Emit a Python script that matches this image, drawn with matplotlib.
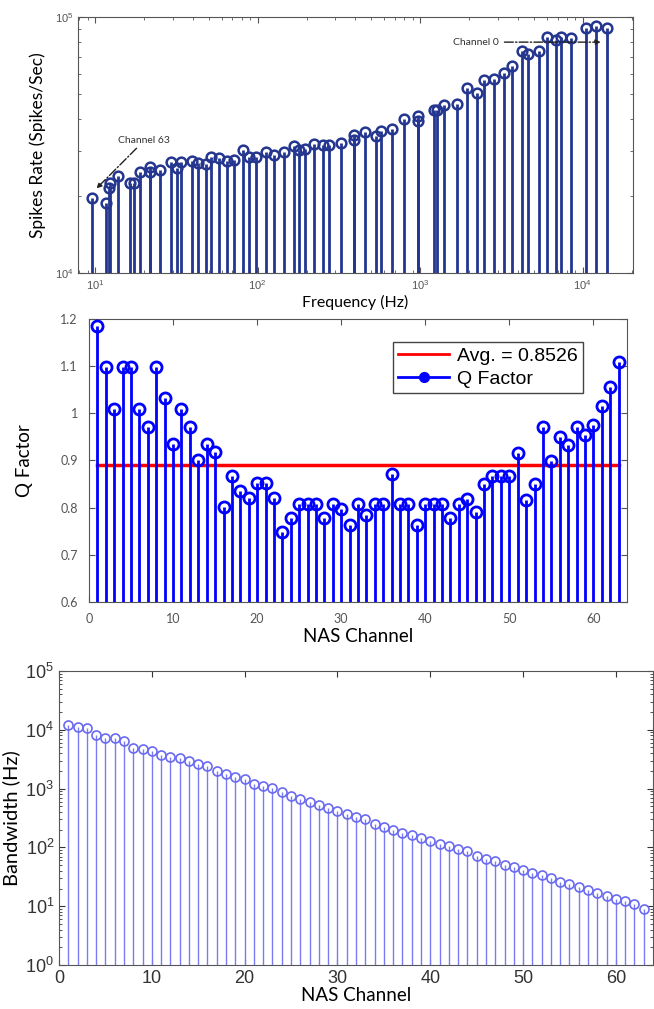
import numpy as np
import matplotlib
matplotlib.use("Agg")
import matplotlib.pyplot as plt
from matplotlib.lines import Line2D
from matplotlib.ticker import LogLocator, NullFormatter, FixedLocator

# spike rate vs centre frequency (channel 63 ... channel 0)
freq_hz = [9.6, 11.7, 12.2, 12.4, 13.9, 16.5, 17.3, 19.0, 21.7, 21.9,
           24.9, 29.2, 32.0, 34.0, 39.2, 42.9, 47.8, 52.0, 57.7, 64.6,
           72.0, 81.1, 88.3, 98.0, 112, 126, 146, 168, 179, 197,
           223, 252, 275, 325, 393, 393, 459, 536, 578, 670,
           800, 968, 968, 1225, 1278, 1406, 1683, 1946, 2252, 2466,
           2866, 3301, 3681, 4224, 4620, 5399, 6072, 6870, 7342, 8458,
           10460, 12110, 14090]
spike_rate = [19600, 18740, 21430, 22430, 23930, 22530, 22530, 24900, 25880, 24830,
              25190, 27170, 25830, 27170, 27300, 26830, 26740, 28480, 28140, 27300,
              27650, 30270, 28310, 28400, 29600, 28820, 29600, 31340, 30270, 30500,
              31900, 31540, 31620, 32080, 34600, 33030, 35560, 34290, 35970, 36640,
              39930, 41010, 39110, 43280, 43280, 45150, 45930, 52850, 50560, 56650,
              57140, 60520, 64240, 73500, 71570, 73960, 83600, 81580, 83600, 82790,
              90820, 92060, 90820]

# Q factor per NAS channel
channels = list(range(1, 64))
q_factor = [1.184, 1.098, 1.01, 1.098, 1.098, 1.01, 0.971, 1.098, 1.032, 0.934,
            1.01, 0.971, 0.9, 0.934, 0.917, 0.802, 0.868, 0.835, 0.82, 0.852,
            0.852, 0.82, 0.748, 0.778, 0.808, 0.808, 0.808, 0.778, 0.808, 0.797,
            0.764, 0.807, 0.784, 0.807, 0.807, 0.871, 0.807, 0.807, 0.764, 0.807,
            0.807, 0.807, 0.777, 0.807, 0.819, 0.79, 0.851, 0.867, 0.867, 0.867,
            0.916, 0.817, 0.85, 0.97, 0.898, 0.95, 0.933, 0.97, 0.953, 0.975,
            1.015, 1.055, 1.109]
avg_line = 0.89
avg_label = "Avg. = 0.8526"

# bandwidth per NAS channel
bandwidth = [12250, 11320, 10620, 8070, 7280, 7280, 6560, 4990, 4730, 4380,
             3790, 3460, 3280, 2960, 2590, 2430, 2030, 1780, 1600, 1450,
             1220, 1100, 1020, 881, 753, 670, 596, 530, 471, 419,
             377, 327, 299, 252, 224, 196, 177, 160, 146, 126,
             114, 105, 93.5, 85.3, 71.9, 64.0, 57.7, 50.6, 46.8, 40.6,
             36.6, 34.3, 30.1, 26.1, 24.1, 21.4, 18.5, 17.1, 14.7, 13.1,
             12.2, 10.7, 8.8]

label_font = ["Lato", "DejaVu Sans"]
tick_font = ["Liberation Sans", "DejaVu Sans"]

fig = plt.figure(figsize=(6.54, 10.09), dpi=100)

# ---------- top: spikes rate ----------
ax1 = fig.add_axes([0.1193, 0.7294, 0.8486, 0.2537])
navy = "#24368f"
ml, sl, bl = ax1.stem(freq_hz, spike_rate, bottom=1e4, basefmt=" ")
plt.setp(sl, color=navy, linewidth=2.0)
plt.setp(ml, color=navy, marker="o", markersize=7, markerfacecolor="none",
         markeredgewidth=1.8)
ax1.set_xscale("log")
ax1.set_yscale("log")
ax1.set_xlim(7.85, 20400)
ax1.set_ylim(1e4, 1e5)
ax1.yaxis.set_major_locator(FixedLocator([1e4, 1e5]))
ax1.yaxis.set_minor_locator(LogLocator(base=10, subs=np.arange(2, 10)))
ax1.yaxis.set_minor_formatter(NullFormatter())
ax1.tick_params(which="both", direction="in", top=True, right=True,
                colors="#555555", labelsize=8)
ax1.tick_params(which="major", length=4)
ax1.tick_params(which="minor", length=2)
for lab in ax1.get_xticklabels() + ax1.get_yticklabels():
    lab.set_family(tick_font)
ax1.set_xlabel("Frequency (Hz)", family=label_font, fontsize=11.5, labelpad=2)
ax1.set_ylabel("Spikes Rate (Spikes/Sec)", family=label_font, fontsize=12.5, labelpad=6)
ax1.annotate("Channel 63", xy=(10.2, 21400), xytext=(13.8, 32800),
             fontsize=7.5, family=label_font, color="#333333", va="center",
             arrowprops=dict(arrowstyle="-|>", linestyle="-.", color="#222222",
                             lw=1.0, shrinkA=0, shrinkB=0))
ax1.annotate("Channel 0", xy=(12900, 79800), xytext=(3050, 79800),
             fontsize=7.5, family=label_font, color="#333333", va="center", ha="right",
             arrowprops=dict(arrowstyle="-|>", linestyle="-.", color="#222222",
                             lw=1.0, shrinkA=2, shrinkB=0))
for s in ax1.spines.values():
    s.set_color("#555555")

# ---------- middle: Q factor ----------
ax2 = fig.add_axes([0.1361, 0.4034, 0.8226, 0.2805])
ax2.plot([channels[0], channels[-1]], [avg_line, avg_line], color="#ff0000",
         linewidth=2.5, zorder=1)
ml, sl, bl = ax2.stem(channels, q_factor, bottom=0, basefmt=" ")
plt.setp(sl, color="#0000ff", linewidth=2.0, zorder=2)
plt.setp(ml, color="#0000ff", marker="o", markersize=8, markerfacecolor="none",
         markeredgewidth=2.0, zorder=3)
ax2.set_xlim(0, 64)
ax2.set_ylim(0.6, 1.2)
ax2.set_xticks([0, 10, 20, 30, 40, 50, 60])
ax2.set_yticks([0.6, 0.7, 0.8, 0.9, 1.0, 1.1, 1.2])
ax2.set_yticklabels(["0.6", "0.7", "0.8", "0.9", "1", "1.1", "1.2"])
ax2.tick_params(direction="in", top=True, right=True, colors="#555555",
                labelsize=9, length=4, pad=8)
for lab in ax2.get_xticklabels() + ax2.get_yticklabels():
    lab.set_family(label_font)
ax2.set_xlabel("NAS Channel", family=label_font, fontsize=13.5, labelpad=2)
ax2.set_ylabel("Q Factor", family=label_font, fontsize=13.5, labelpad=20)
handles = [Line2D([], [], color="#ff0000", linewidth=2),
           Line2D([], [], color="#0000ff", linewidth=2, marker="o", markersize=7,
                  markerfacecolor="#0000ff", markeredgecolor="#0000ff",
                  markevery=[1])]
ax2.legend(handles, [avg_label, "Q Factor"], loc="upper right",
           bbox_to_anchor=(0.937, 0.954), fancybox=False, edgecolor="#444444",
           framealpha=1, prop={"family": tick_font, "size": 14},
           handlelength=2.6, borderpad=0.3, labelspacing=0.25, handletextpad=0.4)
for s in ax2.spines.values():
    s.set_color("#555555")

# ---------- bottom: bandwidth ----------
ax3 = fig.add_axes([0.0902, 0.0436, 0.9083, 0.2914])
light = "#6a6af0"
ml, sl, bl = ax3.stem(channels, bandwidth, bottom=1, basefmt=" ")
plt.setp(sl, color="#7a7af5", linewidth=1.0)
plt.setp(ml, color=light, marker="o", markersize=6.5, markerfacecolor="none",
         markeredgewidth=1.2)
ax3.set_yscale("log")
ax3.set_xlim(0, 64)
ax3.set_ylim(1, 1e5)
ax3.set_xticks([0, 10, 20, 30, 40, 50, 60])
ax3.yaxis.set_major_locator(LogLocator(base=10, numticks=10))
ax3.yaxis.set_minor_locator(LogLocator(base=10, subs=np.arange(2, 10), numticks=20))
ax3.yaxis.set_minor_formatter(NullFormatter())
ax3.tick_params(which="both", direction="in", top=True, right=True,
                colors="#333333", labelsize=13)
ax3.tick_params(which="major", length=4)
ax3.tick_params(which="minor", length=2)
for lab in ax3.get_xticklabels() + ax3.get_yticklabels():
    lab.set_family(tick_font)
ax3.set_xlabel("NAS Channel", family=label_font, fontsize=13.5, labelpad=0)
ax3.set_ylabel("Bandwidth (Hz)", family=label_font, fontsize=14.5, labelpad=4)
for s in ax3.spines.values():
    s.set_color("#555555")

fig.savefig("out.png", dpi=100)
